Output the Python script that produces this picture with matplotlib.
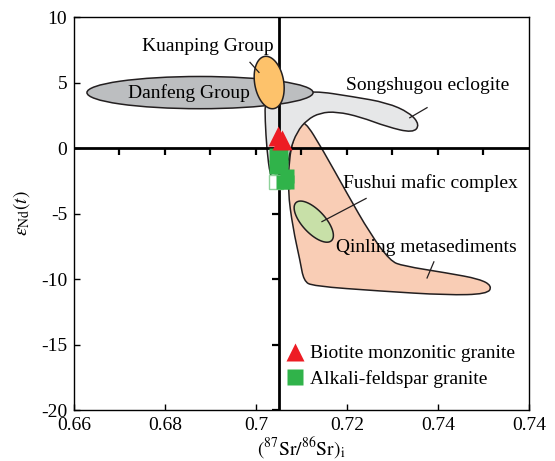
import numpy as np
import matplotlib
matplotlib.use("Agg")
import matplotlib.pyplot as plt
from matplotlib.path import Path
from matplotlib.patches import PathPatch, Polygon, Ellipse
from matplotlib.lines import Line2D
import matplotlib.markers as mk

plt.rcParams['font.family'] = ['Liberation Serif', 'DejaVu Serif']
plt.rcParams['mathtext.fontset'] = 'stix'
plt.rcParams['axes.unicode_minus'] = False

# ---- field outlines (Sr_i, eNd) ----
qinling_x = [0.7106, 0.7147, 0.7200, 0.7251, 0.7295, 0.7323, 0.7420, 0.7492, 0.7519,
             0.7508, 0.7420, 0.7273, 0.7125, 0.7105, 0.7097, 0.7081, 0.7070, 0.7073,
             0.7081, 0.7092]
qinling_y = [2.15, -0.15, -3.46, -6.54, -8.62, -9.0, -9.54, -10.0, -10.54,
             -11.15, -11.23, -10.92, -10.54, -10.15, -8.62, -6.08, -3.23, -0.92,
             0.62, 1.62]

songshugou_x = [0.7020, 0.7075, 0.7125, 0.7213, 0.7288, 0.7338, 0.7360, 0.7345,
                0.7288, 0.7229, 0.7178, 0.7141, 0.7112, 0.7090, 0.7075, 0.7068,
                0.7059, 0.7044, 0.7031, 0.7024, 0.7020]
songshugou_y = [3.69, 4.0, 4.38, 3.92, 3.46, 2.69, 1.77, 1.15,
                1.62, 2.38, 2.77, 2.69, 2.15, 1.23, -0.15, -1.69,
                -2.85, -3.23, -2.08, -0.15, 2.15]

# ellipses: centre, extent
danfeng_c = (0.6877, 4.23)
danfeng_wh = (0.0497, 2.46)
kuanping_c = (0.7029, 5.0)
fushui_c = (0.7127, -5.62)

# ---- samples ----
bmg_sr = [0.7048, 0.7057]
bmg_nd = [0.92, 0.6]
afg_sr = [0.7044, 0.7055, 0.7044, 0.7055, 0.7068, 0.7060, 0.7068]
afg_nd = [-0.55, -0.55, -1.45, -1.45, -2.15, -2.6, -2.6]
afg_open_sr = [0.7044]
afg_open_nd = [-2.6]

ref_sr = 0.705
x_ticks = [0.66, 0.68, 0.70, 0.72, 0.74, 0.76]
x_ticklabels = ['0.66', '0.68', '0.7', '0.72', '0.74', '0.74']
y_ticks = [-20, -15, -10, -5, 0, 5, 10]
inner_xticks = [0.67, 0.68, 0.69, 0.70, 0.71, 0.72, 0.73, 0.74, 0.75]
inner_yticks = [-20, -15, -10, -5, 5]

labels = [
    ("Kuanping Group", 0.6749, 7.77, (0.69868, 6.54), (0.70066, 5.77)),
    ("Danfeng Group", 0.6719, 4.23, None, None),
    ("Songshugou eclogite", 0.7198, 4.77, (0.7376, 3.08), (0.7338, 2.31)),
    ("Fushui mafic complex", 0.7191, -2.69, (0.7242, -3.85), (0.7145, -5.62)),
    ("Qinling metasediments", 0.7176, -7.62, (0.7391, -8.69), (0.7376, -9.92)),
]

RED = '#ED1C24'
GREEN = '#30B34A'
FS = 14


def smooth_patch(xs, ys, **kw):
    # closed quadratic-bezier curve through midpoints of the outline
    p = np.column_stack([xs, ys])
    n = len(p)
    mids = (p + np.roll(p, -1, axis=0)) / 2
    verts = [mids[-1]]
    codes = [Path.MOVETO]
    for i in range(n):
        verts += [p[i], mids[i]]
        codes += [Path.CURVE3, Path.CURVE3]
    return PathPatch(Path(verts, codes), **kw)


def tilted_ellipse(ax, c, w_px, h_px, ang, **kw):
    t = np.linspace(0, 2 * np.pi, 120)
    a = np.deg2rad(ang)
    u = w_px / 2 * np.cos(t)
    v = h_px / 2 * np.sin(t)
    cx, cy = ax.transData.transform(c)
    px = cx + u * np.cos(a) - v * np.sin(a)
    py = cy + u * np.sin(a) + v * np.cos(a)
    pts = ax.transData.inverted().transform(np.column_stack([px, py]))
    ax.add_patch(Polygon(pts, closed=True, **kw))


fig = plt.figure(figsize=(5.55, 4.61), dpi=100)
ax = fig.add_axes([0.1333, 0.1106, 0.8198, 0.8525])
ax.set_xlim(0.66, 0.76)
ax.set_ylim(-20, 10)

ax.add_patch(smooth_patch(qinling_x, qinling_y, facecolor='#F9CDB5', edgecolor='#231F20', lw=1.1, zorder=1))
ax.add_patch(smooth_patch(songshugou_x, songshugou_y, facecolor='#E6E7E8', edgecolor='#231F20', lw=1.1, zorder=1))
tilted_ellipse(ax, fushui_c, 52, 23, 133, facecolor='#C8E0A8', edgecolor='#231F20', lw=1.1, zorder=1.5)

# reference lines with their own tick marks
ax.axhline(0, color='black', lw=2.0, zorder=2)
ax.axvline(ref_sr, color='black', lw=2.0, zorder=2)
ax.plot(inner_xticks, [0] * len(inner_xticks), ls='none', marker=mk.TICKDOWN,
        ms=5, mew=1.6, color='black', zorder=2)
ax.plot([ref_sr] * len(inner_yticks), inner_yticks, ls='none', marker=mk.TICKLEFT,
        ms=5, mew=1.6, color='black', zorder=2)

ax.add_patch(Ellipse(danfeng_c, danfeng_wh[0], danfeng_wh[1], facecolor='#BCBEC0',
                     edgecolor='#231F20', lw=1.1, zorder=3))
tilted_ellipse(ax, kuanping_c, 53, 29, 100, facecolor='#FDC26B', edgecolor='#231F20', lw=1.1, zorder=3)

ax.plot(afg_open_sr, afg_open_nd, ls='none', marker='s', ms=9.5, mfc='white',
        mec='#8FD29B', mew=1.0, zorder=4)
ax.plot(afg_sr, afg_nd, ls='none', marker='s', ms=9.5, color=GREEN, mec='none', zorder=4)
ax.plot(bmg_sr, bmg_nd, ls='none', marker='^', ms=15, color=RED, mec='none', zorder=5)

for txt, tx, ty, p0, p1 in labels:
    ax.text(tx, ty, txt, fontsize=FS, ha='left', va='center', zorder=6)
    if p0 is not None:
        ax.plot([p0[0], p1[0]], [p0[1], p1[1]], color='#231F20', lw=0.9, zorder=6)

handles = [
    Line2D([], [], ls='none', marker='^', ms=13, color=RED, mec='none'),
    Line2D([], [], ls='none', marker='s', ms=12, color=GREEN, mec='none'),
]
ax.legend(handles, ["Biotite monzonitic granite", "Alkali-feldspar granite"],
          loc='upper left', bbox_to_anchor=(0.466, 0.166), frameon=False,
          fontsize=FS, borderpad=0, borderaxespad=0, handlelength=0.95,
          handletextpad=0.3, labelspacing=0.4)

ax.set_xticks(x_ticks)
ax.set_xticklabels(x_ticklabels)
ax.set_yticks(y_ticks)
ax.tick_params(direction='in', length=4, width=1.0, labelsize=FS, pad=5,
               top=False, right=False)
for s in ax.spines.values():
    s.set_linewidth(1.0)

ax.set_xlabel(r'$(^{87}\mathrm{Sr}/^{86}\mathrm{Sr})_{\mathrm{i}}$', fontsize=FS, labelpad=1)
ax.set_ylabel(r'$\varepsilon_{\mathrm{Nd}}(t)$', fontsize=FS, labelpad=6)

fig.savefig("out.png", dpi=100)
